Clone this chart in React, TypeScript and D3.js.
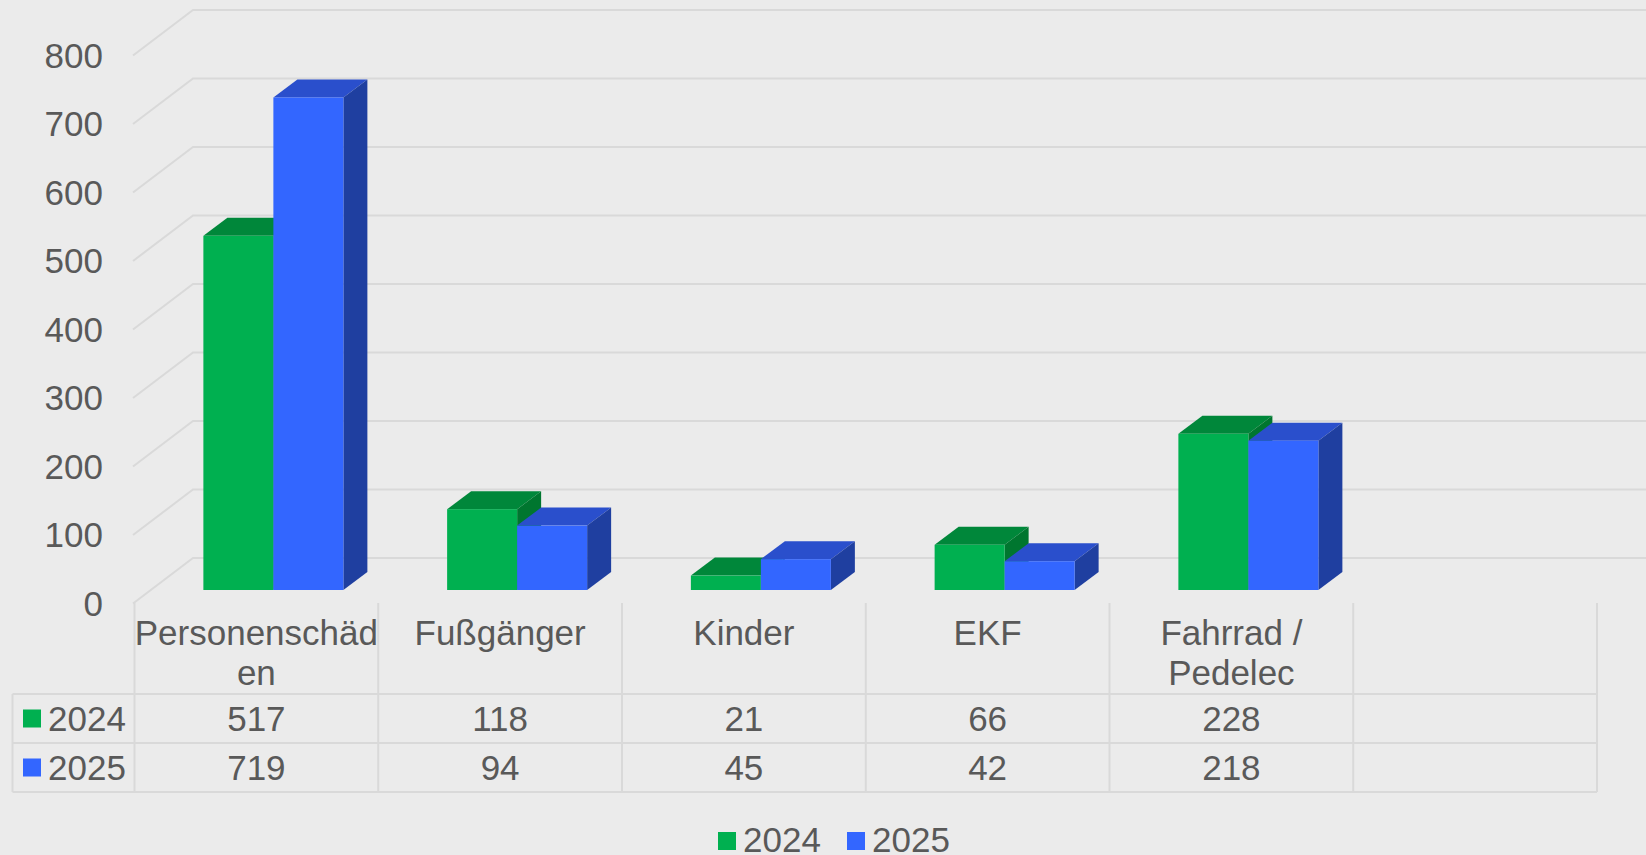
import React from 'react'
import * as d3 from 'd3'

const categories = ['Personenschäden', 'Fußgänger', 'Kinder', 'EKF', 'Fahrrad / Pedelec', '']
const categoryLines = [['Personenschäd', 'en'], ['Fußgänger'], ['Kinder'], ['EKF'], ['Fahrrad /', 'Pedelec'], []]
const seriesNames = ['2024', '2025']
const values2024 = [517, 118, 21, 66, 228]
const values2025 = [719, 94, 45, 42, 218]
const yTicks = [0, 100, 200, 300, 400, 500, 600, 700, 800]

const W = 1646
const H = 855
const font = '"Liberation Sans", Arial, sans-serif'
const textColor = '#595959'
const gridColor = '#d9d9d9'
const bg = '#ebebeb'
const fs = 35

const colors = [
  { front: '#00b050', top: '#00873a', side: '#00762f' },
  { front: '#3366ff', top: '#2a4fcc', side: '#1f3fa0' },
]

// 3d depth of the floor and of the bars
const floorDx = 60
const floorDy = -45.5
const barOffX = 17
const barOffY = -13.5
const barDx = 24
const barDy = -18

export default function App() {
  const x = d3.scaleBand<string>().domain(categories).range([134.5, 1597]).padding(0)
  const y = d3.scaleLinear().domain([0, 800]).range([603.5, 55.5])
  const inner = d3.scaleBand<string>().domain(seriesNames).range([-70, 70]).padding(0)
  const series = [values2024, values2025]

  const tableTop = 603
  const rowTops = [694, 743, 792]
  const tableLeft = 12.5
  const tableRight = x.range()[1]

  return (
    <svg width={W} height={H} style={{ position: 'absolute', left: 0, top: 0 }} fontFamily={font}>
      <rect width={W} height={H} fill={bg} />

      {/* gridlines */}
      {yTicks.map((t) => {
        const yf = y(t)
        const x0 = 133
        return (
          <g key={t}>
            <path d={`M${x0},${yf}L${x0 + floorDx},${yf + floorDy}L${W},${yf + floorDy}`} fill="none" stroke={gridColor} strokeWidth={2} />
            <text x={103} y={yf} dy="0.35em" textAnchor="end" fontSize={fs} fill={textColor}>{t}</text>
          </g>
        )
      })}

      {/* bars */}
      {categories.slice(0, values2024.length).map((c, i) => (
        <g key={c}>
          {series.map((vals, s) => {
            const x0 = (x(c) as number) + x.bandwidth() / 2 + (inner(seriesNames[s]) as number) + barOffX
            const w = inner.bandwidth()
            const yb = y(0) + barOffY
            const yt = y(vals[i]) + barOffY
            const col = colors[s]
            return (
              <g key={s}>
                <path d={`M${x0},${yt}L${x0 + barDx},${yt + barDy}L${x0 + w + barDx},${yt + barDy}L${x0 + w},${yt}Z`} fill={col.top} />
                <path d={`M${x0 + w},${yt}L${x0 + w + barDx},${yt + barDy}L${x0 + w + barDx},${yb + barDy}L${x0 + w},${yb}Z`} fill={col.side} />
                <rect x={x0} y={yt} width={w} height={yb - yt} fill={col.front} />
              </g>
            )
          })}
        </g>
      ))}

      {/* data table */}
      {x.domain().map((c) => (
        <line key={'v' + c} x1={x(c)} x2={x(c)} y1={tableTop} y2={rowTops[2]} stroke={gridColor} strokeWidth={2} />
      ))}
      <line x1={tableRight} x2={tableRight} y1={tableTop} y2={rowTops[2]} stroke={gridColor} strokeWidth={2} />
      <line x1={tableLeft} x2={tableLeft} y1={rowTops[0]} y2={rowTops[2]} stroke={gridColor} strokeWidth={2} />
      {rowTops.map((r) => (
        <line key={'h' + r} x1={tableLeft} x2={tableRight} y1={r} y2={r} stroke={gridColor} strokeWidth={2} />
      ))}

      {categoryLines.map((lines, i) => (
        <text key={'c' + i} x={(x(categories[i]) as number) + x.bandwidth() / 2} textAnchor="middle" fontSize={fs} fill={textColor}>
          {lines.map((l, k) => (
            <tspan key={k} x={(x(categories[i]) as number) + x.bandwidth() / 2} y={645 + k * 40}>{l}</tspan>
          ))}
        </text>
      ))}

      {series.map((vals, s) => {
        const rowMid = (rowTops[s] + rowTops[s + 1]) / 2
        return (
          <g key={'row' + s}>
            <rect x={23} y={rowMid - 9} width={18} height={18} fill={colors[s].front} />
            <text x={48} y={rowMid} dy="0.35em" fontSize={fs} fill={textColor}>{seriesNames[s]}</text>
            {vals.map((v, i) => (
              <text key={i} x={(x(categories[i]) as number) + x.bandwidth() / 2} y={rowMid} dy="0.35em" textAnchor="middle" fontSize={fs} fill={textColor}>{v}</text>
            ))}
          </g>
        )
      })}

      {/* legend */}
      {seriesNames.map((n, s) => {
        const lx = 718 + s * 129
        return (
          <g key={'lg' + n}>
            <rect x={lx} y={832} width={18} height={18} fill={colors[s].front} />
            <text x={lx + 25} y={852} fontSize={fs} fill={textColor}>{n}</text>
          </g>
        )
      })}
    </svg>
  )
}
